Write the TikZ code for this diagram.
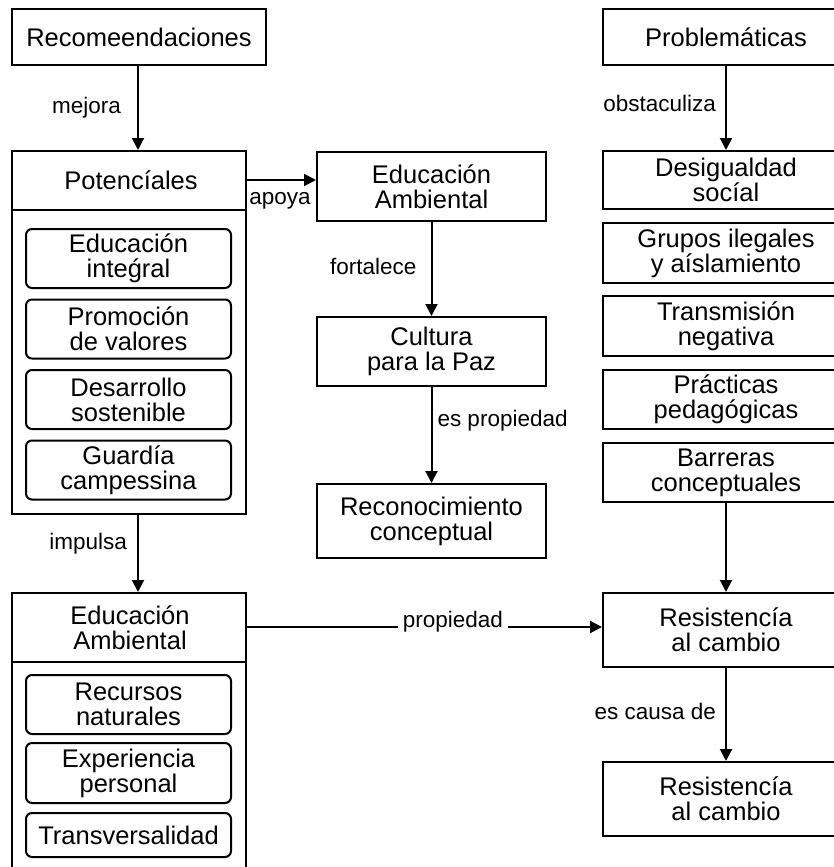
\documentclass[tikz,border=0pt]{standalone}
\usepackage{fontspec}
\setmainfont{Liberation Sans}
\usetikzlibrary{arrows.meta}

\tikzset{
  box/.style={draw, line width=2pt, inner sep=0pt, align=center,
              font=\fontsize{25.5}{25}\selectfont},
  txt/.style={inner sep=0pt, align=center, font=\fontsize{25.5}{25}\selectfont},
  lbl/.style={inner sep=0pt, font=\fontsize{22.5}{24}\selectfont},
  mbox/.style={box, minimum width=229pt},
  rbox/.style={box, minimum width=246pt},
  ibox/.style={box, rounded corners=6pt, minimum width=205pt},
  arr/.style={line width=2pt, -{Triangle[length=12pt,width=12pt]}},
  ln/.style={line width=2pt}
}

\begin{document}
\begin{tikzpicture}[x=1pt,y=-1pt]
\useasboundingbox (0,0) rectangle (833,867);

% ---------- left column ----------
\node[box, minimum width=254pt, minimum height=56pt] (rec) at (139,37) {Recomeendaciones};

\node[box, minimum width=234pt, minimum height=363pt] (pot) at (129,332.5) {};
\node[txt] (pottitle) at (131,180) {Potencíales};
\coordinate (potdiv) at (0,210);
\draw[ln] (pot.west |- potdiv) -- (pot.east |- potdiv);

\node[ibox, minimum height=59pt] (p1) at (128.5,258.5) {Educación\\inteǵral};
\node[ibox, minimum height=59pt] (p2) at (128.5,329) {Promoción\\de valores};
\node[ibox, minimum height=59pt] (p3) at (128.5,399.5) {Desarrollo\\sostenible};
\node[ibox, minimum height=59pt] (p4) at (128.5,470) {Guardía\\campessina};

\node[box, minimum width=234pt, minimum height=290pt] (ea2) at (129,738) {};
\node[txt] (ea2title) at (130,627.5) {Educación\\Ambiental};
\coordinate (eadiv) at (0,662);
\draw[ln] (ea2.west |- eadiv) -- (ea2.east |- eadiv);

\node[ibox, minimum height=59pt] (e1) at (128.5,704.5) {Recursos\\naturales};
\node[ibox, minimum height=60pt] (e2) at (128.5,773) {Experiencia\\personal};
\node[ibox, minimum height=44pt] (e3) at (128.5,835) {Transversalidad};

\coordinate (colL) at (138,0);
\draw[arr] (colL |- rec.south) -- (colL |- pot.north)
  node[lbl, pos=0.5, left=16pt] (lmejora) {mejora};
\draw[arr] (colL |- pot.south) -- (colL |- ea2.north)
  node[lbl, pos=0.37, left=10pt] (limpulsa) {impulsa};

% ---------- middle column ----------
\node[mbox, minimum height=69pt] (ea1) at (431.5,186.5) {Educación\\Ambiental};
\node[mbox, minimum height=69pt] (cult) at (431.5,351.5) {Cultura\\para la Paz};
\node[mbox, minimum height=74pt] (recon) at (431.5,521) {Reconocimiento\\conceptual};

\coordinate (apy) at (0,180);
\draw[arr] (pot.east |- apy) -- (ea1.west |- apy);
\node[lbl] (lapoya) at (280,201) {apoya};

\draw[arr] (ea1.south) -- (cult.north)
  node[lbl, pos=0.47, left=14pt] (lfort) {fortalece};
\draw[arr] (cult.south) -- (recon.north)
  node[lbl, pos=0.35, right=5pt] (lesprop) {es propiedad};

% ---------- right column ----------
\node[rbox, minimum height=56pt] (prob) at (726,37) {Problemáticas};
\node[rbox, minimum height=58pt] (des) at (726,180) {Desigualdad\\socíal};
\node[rbox, minimum height=60pt] (gru) at (726,253) {Grupos ilegales\\y aíslamiento};
\node[rbox, minimum height=60pt] (tra) at (726,326) {Transmisión\\negativa};
\node[rbox, minimum height=59pt] (pra) at (726,399.5) {Prácticas\\pedagógicas};
\node[rbox, minimum height=59pt] (bar) at (726,472.5) {Barreras\\conceptuales};
\node[rbox, minimum height=74pt] (res1) at (726,630) {Resistencía\\al cambio};
\node[rbox, minimum height=74pt] (res2) at (726,799) {Resistencía\\al cambio};

\draw[arr] (prob.south) -- (des.north)
  node[lbl, pos=0.45, left=9pt] (lobst) {obstaculiza};
\draw[arr] (bar.south) -- (res1.north);
\draw[arr] (res1.south) -- (res2.north)
  node[lbl, pos=0.47, left=9pt] (lcausa) {es causa de};

% long link across the bottom
\coordinate (py) at (0,627);
\draw[arr] (ea2.east |- py) -- (res1.west |- py)
  node[lbl, pos=0.58, fill=white, inner xsep=5pt, inner ysep=3pt, yshift=5pt] (lprop) {propiedad};
\end{tikzpicture}
\end{document}
